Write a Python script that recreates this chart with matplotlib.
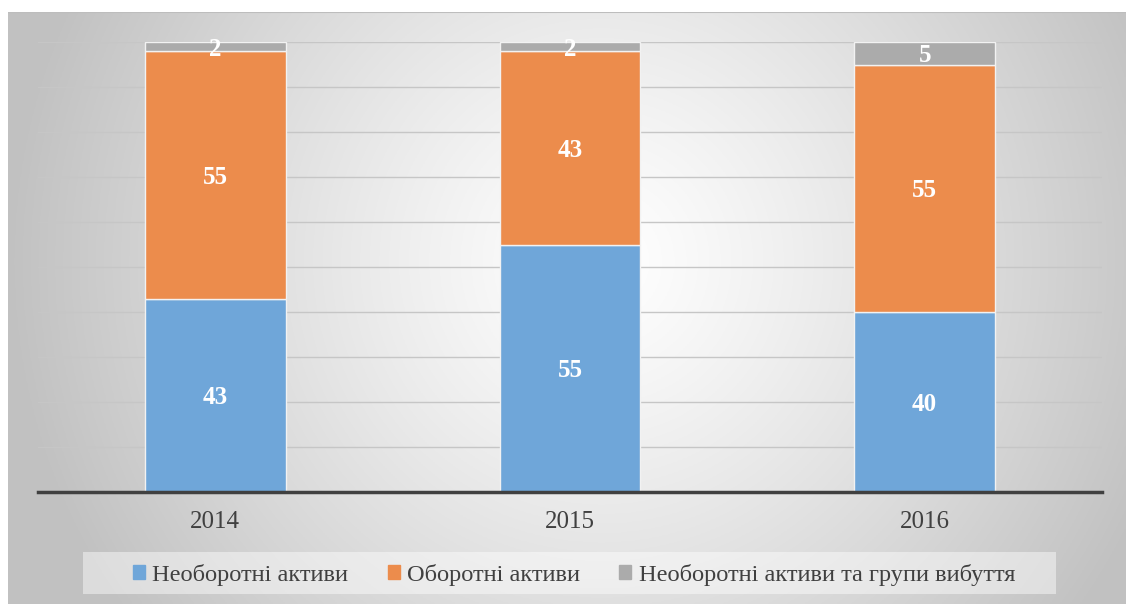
import matplotlib.pyplot as plt
import numpy as np
from matplotlib.patches import Rectangle

years = ['2014', '2015', '2016']
non_current = [43, 55, 40]
current = [55, 43, 55]
held_for_sale = [2, 2, 5]
series_names = ['Необоротні активи', 'Оборотні активи', 'Необоротні активи та групи вибуття']
colors = ['#6fa6d9', '#ec8c4c', '#ababab']

plt.rcParams['font.family'] = ['Liberation Serif', 'DejaVu Serif']

W, H = 1126, 604
fig = plt.figure(figsize=(W / 100, H / 100), dpi=100)

# radial gradient background of the chart area
bg = fig.add_axes([8 / W, 0, (W - 8) / W, (H - 12) / H])
yy, xx = np.mgrid[0:300, 0:560]
cx, cy = 0.53, 0.42
r = np.sqrt(((xx / 560 - cx) * 1.9) ** 2 + ((yy / 300 - cy) * 1.0) ** 2)
shade = 1 - 0.24 * np.clip(r / 1.0, 0, 1) ** 1.2
bg.imshow(np.dstack([shade] * 3), aspect='auto', extent=[0, 1, 0, 1], origin='upper')
bg.set_xlim(0, 1)
bg.set_ylim(0, 1)
bg.axis('off')
bg.axhline(1, color='#bdbdbd', lw=1.5)

ax = fig.add_axes([38 / W, (H - 492) / H, (1102 - 38) / W, 450 / H])
ax.patch.set_alpha(0)
x = np.arange(len(years))
width = 0.397

for v in range(10, 101, 10):
    ax.axhline(v, color='#c6c6c6', lw=1, zorder=0)

bottom = np.zeros(len(years))
for vals, c in zip([non_current, current, held_for_sale], colors):
    ax.bar(x, vals, width, bottom=bottom, color=c, edgecolor='#f2f2f2', linewidth=1, zorder=2)
    for xi, b, v in zip(x, bottom, vals):
        ax.text(xi, b + v / 2 - 0.6, str(v), ha='center', va='center', color='white',
                fontsize=18, fontweight='bold', zorder=3)
    bottom += np.array(vals)

ax.set_xlim(-0.5, 2.5)
ax.set_ylim(0, 100)
ax.set_xticks(x)
ax.set_xticklabels(years, fontsize=18, color='#404040')
ax.tick_params(axis='x', length=0, pad=14)
ax.set_yticks([])
for s in ['top', 'right', 'left']:
    ax.spines[s].set_visible(False)
ax.spines['bottom'].set_color('#404040')
ax.spines['bottom'].set_linewidth(2.5)
ax.spines['bottom'].set_zorder(4)

# legend box
fig.patches.append(Rectangle((83 / W, (H - 594) / H), (1056 - 83) / W, 42 / H,
                             transform=fig.transFigure, facecolor='white', alpha=0.45,
                             edgecolor='none', zorder=1))
handles = [Rectangle((0, 0), 1, 1, color=c) for c in colors]
fig.legend(handles, series_names, loc='center', bbox_to_anchor=(574 / W, (H - 575) / H),
           ncol=3, frameon=False, fontsize=17.6, handlelength=0.5, handleheight=0.5,
           handletextpad=0.3, columnspacing=1.6, labelcolor='#404040')

fig.savefig('out.png', dpi=100)
